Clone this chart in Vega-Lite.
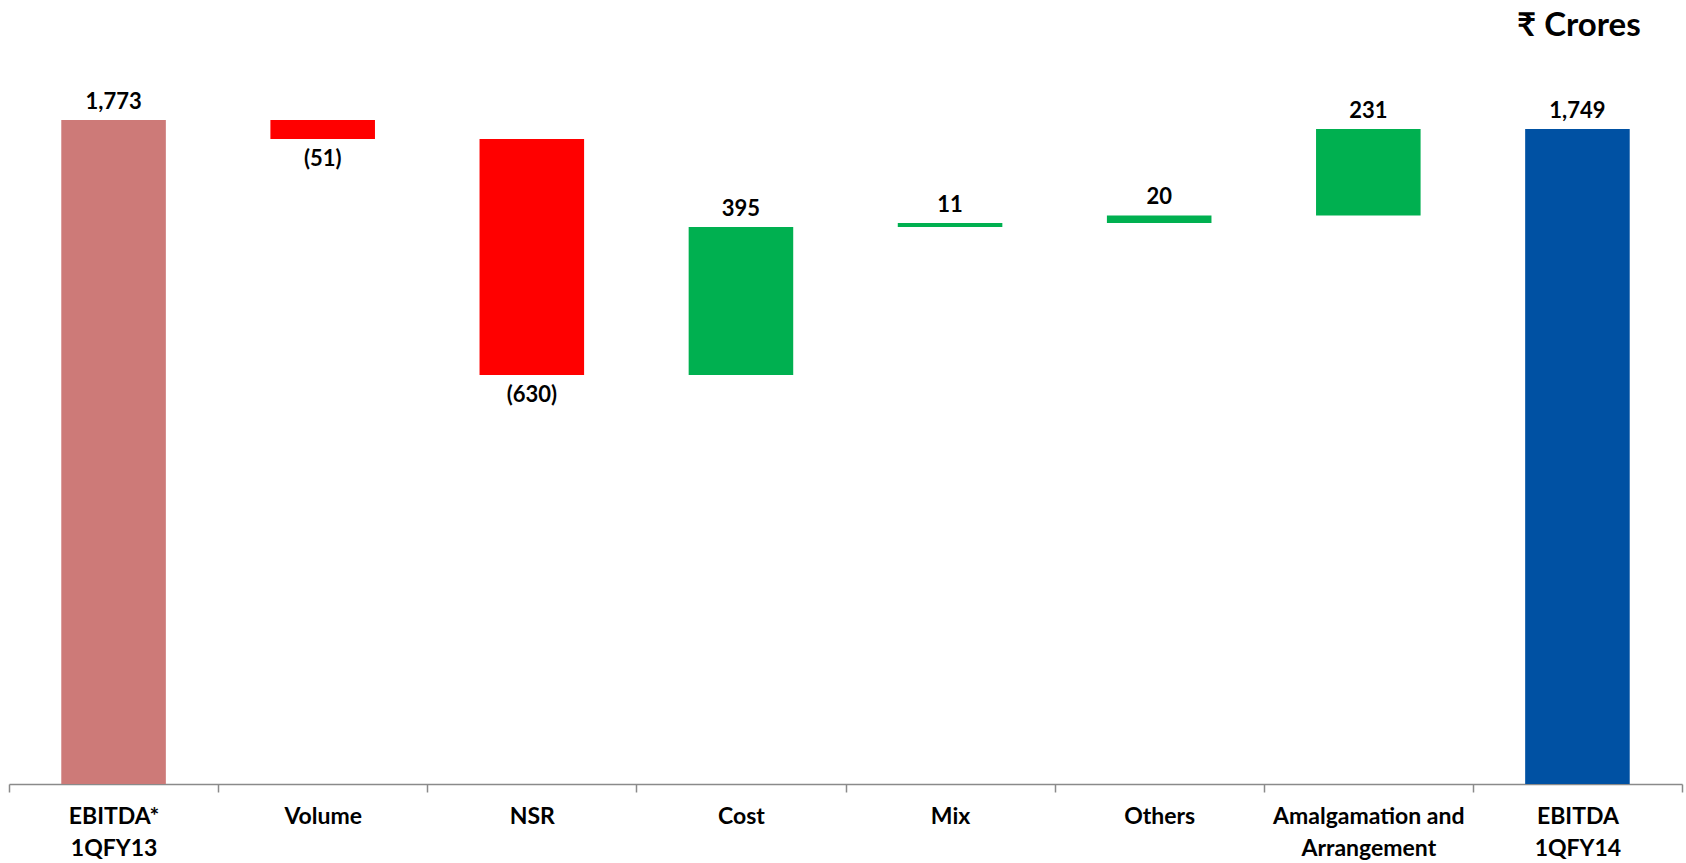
{
  "$schema": "https://vega.github.io/schema/vega-lite/v6.json",
  "width": 1673,
  "height": 724,
  "autosize": {"type": "none"},
  "padding": {"left": 9, "top": 60, "right": 4, "bottom": 79},
  "background": "white",
  "config": {"view": {"stroke": null}},
  "title": {
    "text": "₹ Crores",
    "anchor": "end",
    "orient": "top",
    "font": "Lato",
    "fontSize": 33,
    "fontWeight": "bold",
    "color": "black",
    "baseline": "alphabetic",
    "offset": -9,
    "dx": -42
  },
  "data": {
    "values": [
      {"category": "EBITDA* 1QFY13", "start": 0, "end": 1773, "label": "1,773", "kind": "base"},
      {"category": "Volume", "start": 1773, "end": 1722, "label": "(51)", "kind": "decrease"},
      {"category": "NSR", "start": 1722, "end": 1092, "label": "(630)", "kind": "decrease"},
      {"category": "Cost", "start": 1092, "end": 1487, "label": "395", "kind": "increase"},
      {"category": "Mix", "start": 1487, "end": 1498, "label": "11", "kind": "increase"},
      {"category": "Others", "start": 1498, "end": 1518, "label": "20", "kind": "increase"},
      {"category": "Amalgamation and Arrangement", "start": 1518, "end": 1749, "label": "231", "kind": "increase"},
      {"category": "EBITDA 1QFY14", "start": 0, "end": 1749, "label": "1,749", "kind": "total"}
    ]
  },
  "encoding": {
    "x": {
      "field": "category",
      "type": "nominal",
      "sort": null,
      "scale": {"paddingInner": 0, "paddingOuter": 0},
      "axis": {
        "title": null,
        "labelAngle": 0,
        "tickBand": "extent",
        "domainColor": "#8a8a8a",
        "domainWidth": 1.5,
        "tickColor": "#8a8a8a",
        "tickWidth": 1.5,
        "tickSize": 8,
        "labelFont": "Lato",
        "labelFontSize": 23,
        "labelFontWeight": "bold",
        "labelColor": "black",
        "labelPadding": 13,
        "labelLineHeight": 32,
        "labelLimit": 400,
        "labelExpr": "datum.value == 'EBITDA* 1QFY13' ? ['EBITDA*', '1QFY13'] : datum.value == 'Amalgamation and Arrangement' ? ['Amalgamation and', 'Arrangement'] : datum.value == 'EBITDA 1QFY14' ? ['EBITDA', '1QFY14'] : datum.value"
      }
    }
  },
  "layer": [
    {
      "mark": {"type": "bar", "width": {"band": 0.5}},
      "encoding": {
        "y": {"field": "start", "type": "quantitative", "scale": {"domain": [0, 1933], "nice": false, "zero": true}, "axis": null},
        "y2": {"field": "end"},
        "color": {
          "field": "kind",
          "type": "nominal",
          "scale": {"domain": ["base", "decrease", "increase", "total"], "range": ["#CD7A78", "#FF0000", "#00B050", "#0051A3"]},
          "legend": null
        }
      }
    },
    {
      "transform": [{"filter": "datum.kind != 'decrease'"}],
      "mark": {"type": "text", "font": "Lato", "fontSize": 22, "fontWeight": "bold", "color": "black", "baseline": "alphabetic", "dy": -11},
      "encoding": {
        "y": {"field": "end", "type": "quantitative", "scale": {"domain": [0, 1933], "nice": false}, "axis": null},
        "text": {"field": "label"}
      }
    },
    {
      "transform": [{"filter": "datum.kind == 'decrease'"}],
      "mark": {"type": "text", "font": "Lato", "fontSize": 22, "fontWeight": "bold", "color": "black", "baseline": "alphabetic", "dy": 27},
      "encoding": {
        "y": {"field": "end", "type": "quantitative", "scale": {"domain": [0, 1933], "nice": false}, "axis": null},
        "text": {"field": "label"}
      }
    }
  ]
}
